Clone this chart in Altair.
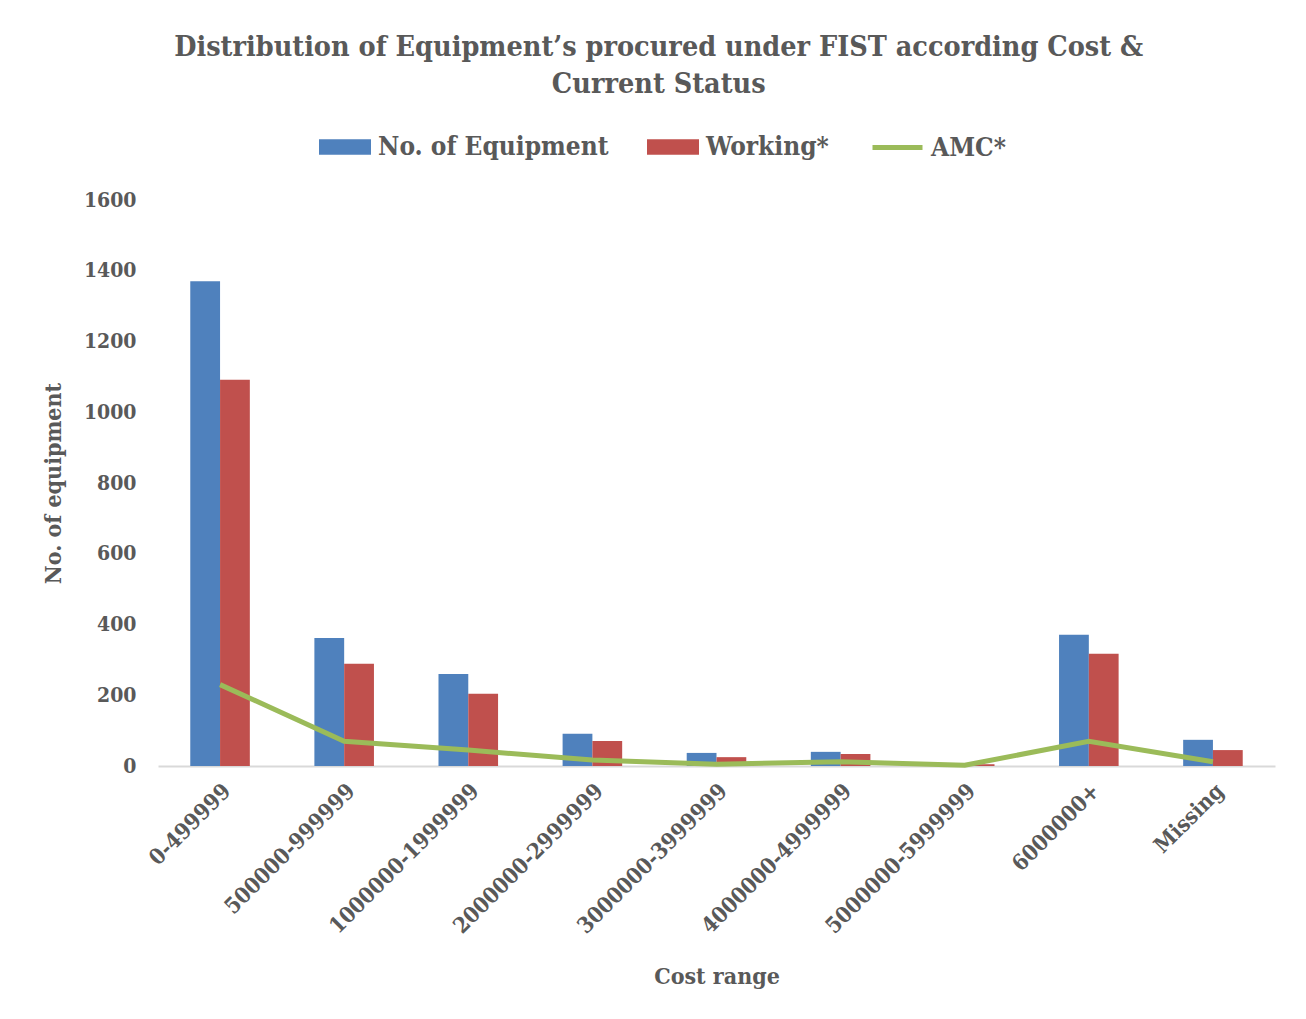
import altair as alt
import pandas as pd

categories = ["0-499999", "500000-999999", "1000000-1999999", "2000000-2999999",
              "3000000-3999999", "4000000-4999999", "5000000-5999999", "6000000+", "Missing"]
equipment = [1370, 362, 260, 91, 37, 40, 4, 371, 74]
working = [1092, 289, 204, 71, 25, 34, 5, 317, 45]
amc = [230, 70, 45, 17, 5, 12, 2, 70, 12]

FONT = "DejaVu Serif Condensed"
TXT = "#595959"

bars_df = pd.DataFrame(
    [{"cat": c, "series": "No. of Equipment", "value": v} for c, v in zip(categories, equipment)]
    + [{"cat": c, "series": "Working*", "value": v} for c, v in zip(categories, working)]
)
line_df = pd.DataFrame({"cat": categories, "series": "AMC*", "value": amc})

x_enc = alt.X("cat:N", sort=categories, title="Cost range",
              scale=alt.Scale(paddingInner=0.52, paddingOuter=0.26),
              axis=alt.Axis(labelAngle=-45, labelFontSize=22, labelFont=FONT, labelFontWeight="bold",
                            labelColor=TXT, labelLimit=400, titleFont=FONT, titleFontSize=23,
                            titleFontWeight="bold", titleColor=TXT, ticks=False, domainColor="#D9D9D9",
                            domainWidth=2, labelPadding=14, titlePadding=29))
y_enc = alt.Y("value:Q", title="No. of equipment",
              scale=alt.Scale(domain=[0, 1600]),
              axis=alt.Axis(values=list(range(0, 1601, 200)), format="d", grid=False, domain=False,
                            ticks=False, labelFontSize=21, labelFont=FONT, labelFontWeight="bold",
                            labelColor=TXT, labelPadding=22, titleFont=FONT, titleFontSize=23,
                            titleFontWeight="bold", titleColor=TXT, titlePadding=18))

legend_common = dict(orient="none", direction="horizontal", title=None, labelFont=FONT,
                     labelFontSize=26, labelFontWeight="bold", labelColor=TXT, labelLimit=500,
                     legendY=-80)

bars = alt.Chart(bars_df).mark_bar().encode(
    x=x_enc,
    y=y_enc,
    xOffset=alt.XOffset("series:N", sort=["No. of Equipment", "Working*"]),
    color=alt.Color("series:N", sort=["No. of Equipment", "Working*"],
                    scale=alt.Scale(domain=["No. of Equipment", "Working*"], range=["#4F81BD", "#C0504D"]),
                    legend=alt.Legend(symbolType="M-1,-0.3H1V0.3H-1Z", symbolSize=2704, symbolOpacity=1,
                                      columnPadding=37, labelOffset=6, legendX=160, **legend_common)),
)

line = alt.Chart(line_df).mark_line(strokeWidth=5).encode(
    x=alt.X("cat:N", sort=categories),
    y="value:Q",
    stroke=alt.Stroke("series:N", scale=alt.Scale(domain=["AMC*"], range=["#9BBB59"]),
                      legend=alt.Legend(symbolType="stroke", symbolSize=2500, symbolStrokeWidth=5,
                                        labelOffset=6, legendX=712, **legend_common)),
)

chart = alt.layer(bars, line).resolve_scale(color="independent").properties(
    width=1117, height=566,
    background="white",
    autosize=alt.AutoSizeParams(type="none"),
    padding={"left": 158, "top": 200, "right": 31, "bottom": 253},
    title=alt.TitleParams(
        text=["Distribution of Equipment\u2019s procured under FIST according Cost &", "Current Status"],
        font=FONT, fontSize=28.5, fontWeight="bold", color=TXT, anchor="middle", frame="bounds",
        lineHeight=37, offset=22),
).configure_view(strokeWidth=0, stroke="transparent")

chart.save("out.html", embed_options={"renderer": "svg", "actions": False})
